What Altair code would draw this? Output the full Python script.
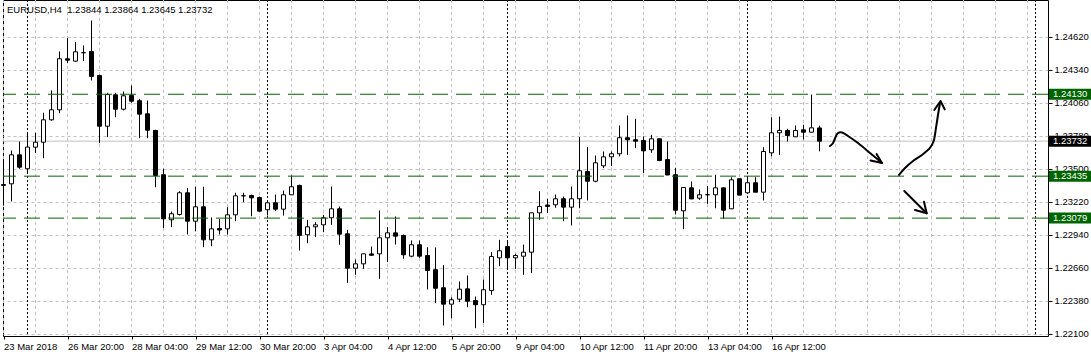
import altair as alt
import pandas as pd

# ---- candle data (EURUSD H4) ----
opens = [1.23356, 1.23370, 1.23616, 1.23498, 1.23681, 1.23723, 1.23913, 1.23998, 1.24431, 1.24411,
         1.24482, 1.24493, 1.24289, 1.23859, 1.24125, 1.24003, 1.24119, 1.24075, 1.23964, 1.23823,
         1.23447, 1.23065, 1.23110, 1.23294, 1.23053, 1.23175, 1.22895, 1.22991, 1.22988, 1.23107,
         1.23268, 1.23271, 1.23254, 1.23150, 1.23209, 1.23155, 1.23277, 1.23356, 1.22938, 1.23005,
         1.23022, 1.23082, 1.23158, 1.22946, 1.22654, 1.22691, 1.22775, 1.22776, 1.22912, 1.22954,
         1.22932, 1.22756, 1.22853, 1.22762, 1.22641, 1.22488, 1.22349, 1.22391, 1.22479, 1.22380,
         1.22344, 1.22465, 1.22742, 1.22838, 1.22742, 1.22756, 1.22790, 1.23124, 1.23190, 1.23192,
         1.23243, 1.23172, 1.23243, 1.23475, 1.23392, 1.23523, 1.23599, 1.23625, 1.23761, 1.23744,
         1.23738, 1.23659, 1.23752, 1.23576, 1.23447, 1.23141, 1.23336, 1.23248, 1.23277, 1.23277,
         1.23336, 1.23158, 1.23413, 1.23294, 1.23379, 1.23299, 1.23633, 1.23803, 1.23823, 1.23769,
         1.23828, 1.23808, 1.23844]
highs = [1.23582, 1.23653, 1.23729, 1.23797, 1.23803, 1.23973, 1.24162, 1.24493, 1.24606, 1.24572,
         1.24544, 1.24756, 1.24295, 1.24142, 1.24142, 1.24153, 1.24204, 1.24091, 1.24077, 1.23828,
         1.23498, 1.23135, 1.23307, 1.23336, 1.23345, 1.23345, 1.23084, 1.23073, 1.23172, 1.23294,
         1.23294, 1.23279, 1.23262, 1.23212, 1.23279, 1.23313, 1.23441, 1.23364, 1.23065, 1.23044,
         1.23107, 1.23347, 1.23178, 1.22980, 1.22728, 1.22776, 1.22838, 1.23144, 1.23002, 1.23093,
         1.22940, 1.22889, 1.22889, 1.22832, 1.22830, 1.22680, 1.22408, 1.22541, 1.22592, 1.22414,
         1.22558, 1.22790, 1.22895, 1.22893, 1.22776, 1.22855, 1.23126, 1.23307, 1.23243, 1.23279,
         1.23262, 1.23347, 1.23766, 1.23681, 1.23610, 1.23644, 1.23644, 1.23865, 1.23950, 1.23922,
         1.23772, 1.23786, 1.23754, 1.23729, 1.23506, 1.23341, 1.23390, 1.23322, 1.23350, 1.23447,
         1.23338, 1.23426, 1.23415, 1.23426, 1.23426, 1.23681, 1.23935, 1.23941, 1.23837, 1.23865,
         1.23871, 1.24128, 1.23864]
lows = [1.23186, 1.23220, 1.23498, 1.23462, 1.23633, 1.23587, 1.23905, 1.23969, 1.24394, 1.24408,
        1.24411, 1.24247, 1.23715, 1.23766, 1.23935, 1.23992, 1.24058, 1.23757, 1.23757, 1.23341,
        1.22994, 1.23002, 1.23101, 1.22940, 1.22966, 1.22832, 1.22841, 1.22940, 1.22940, 1.23053,
        1.23214, 1.23095, 1.23135, 1.23101, 1.23138, 1.23101, 1.23275, 1.22804, 1.22866, 1.22917,
        1.22960, 1.23022, 1.22853, 1.22530, 1.22598, 1.22649, 1.22760, 1.22564, 1.22705, 1.22855,
        1.22734, 1.22747, 1.22742, 1.22473, 1.22357, 1.22168, 1.22230, 1.22366, 1.22323, 1.22145,
        1.22187, 1.22428, 1.22671, 1.22649, 1.22649, 1.22598, 1.22612, 1.23065, 1.23121, 1.23167,
        1.23053, 1.23016, 1.23163, 1.23229, 1.23384, 1.23503, 1.23520, 1.23602, 1.23616, 1.23672,
        1.23460, 1.23633, 1.23562, 1.23443, 1.23110, 1.22985, 1.23240, 1.23234, 1.23200, 1.23163,
        1.23073, 1.23156, 1.23274, 1.23292, 1.23299, 1.23229, 1.23604, 1.23616, 1.23729, 1.23767,
        1.23746, 1.23806, 1.23645]
closes = [1.23364, 1.23616, 1.23511, 1.23682, 1.23723, 1.23913, 1.23998, 1.24431, 1.24419, 1.24490,
          1.24483, 1.24281, 1.23859, 1.24128, 1.24003, 1.24117, 1.24071, 1.23961, 1.23825, 1.23441,
          1.23073, 1.23116, 1.23294, 1.23053, 1.23175, 1.22895, 1.22988, 1.22978, 1.23107, 1.23268,
          1.23269, 1.23251, 1.23138, 1.23209, 1.23155, 1.23277, 1.23345, 1.22932, 1.23005, 1.23022,
          1.23082, 1.23158, 1.22943, 1.22654, 1.22691, 1.22776, 1.22764, 1.22912, 1.22954, 1.22926,
          1.22768, 1.22853, 1.22756, 1.22635, 1.22484, 1.22349, 1.22386, 1.22476, 1.22374, 1.22344,
          1.22471, 1.22753, 1.22802, 1.22742, 1.22762, 1.22790, 1.23124, 1.23178, 1.23178, 1.23243,
          1.23172, 1.23243, 1.23481, 1.23392, 1.23548, 1.23599, 1.23625, 1.23761, 1.23744, 1.23732,
          1.23650, 1.23752, 1.23568, 1.23445, 1.23146, 1.23339, 1.23242, 1.23277, 1.23278, 1.23336,
          1.23146, 1.23404, 1.23274, 1.23379, 1.23299, 1.23644, 1.23803, 1.23823, 1.23780, 1.23823,
          1.23808, 1.23845, 1.23732]

symbol = "EURUSD,H4"
time_labels = ["23 Mar 2018", "26 Mar 20:00", "28 Mar 04:00", "29 Mar 12:00", "30 Mar 20:00",
               "3 Apr 04:00", "4 Apr 12:00", "5 Apr 20:00", "9 Apr 04:00", "10 Apr 12:00",
               "11 Apr 20:00", "13 Apr 04:00", "16 Apr 12:00"]
label_bars = [0, 8, 16, 24, 32, 40, 48, 56, 64, 72, 80, 88, 96]
grid_bars = list(range(0, 129, 4))
week_separators = [3, 33, 63, 93, 129]
price_ticks = [1.22100, 1.22380, 1.22660, 1.22940, 1.23220, 1.23500, 1.23780, 1.24060, 1.24340, 1.24620]
levels = [1.24130, 1.23435, 1.23079]
bid = closes[-1]

# hand-drawn arrows: (bar position, price)
arrow_down_x = [103.31, 103.69, 104.06, 104.31, 104.81, 105.56, 106.81, 108.31, 109.81]
arrow_down_y = [1.23691, 1.23716, 1.23776, 1.23801, 1.23805, 1.23776, 1.23716, 1.23632, 1.23547]
head_down_x = [109.13, 109.81, 108.38]
head_down_y = [1.23623, 1.23547, 1.23568]
arrow_up_x = [111.94, 112.69, 113.69, 114.81, 115.81, 116.31, 116.56, 116.81, 117.06]
arrow_up_y = [1.23445, 1.23504, 1.23564, 1.23615, 1.23674, 1.23742, 1.23844, 1.23954, 1.24056]
head_up_x = [116.35, 117.13, 117.65]
head_up_y = [1.23996, 1.24073, 1.24002]
arrow_low_x = [112.6, 115.4]
arrow_low_y = [1.23309, 1.23120]
head_low_x = [113.94, 115.4, 115.06]
head_low_y = [1.23148, 1.23120, 1.23218]

# ---- tables ----
n = len(opens)
candles = pd.DataFrame({"i": list(range(n)), "open": opens, "high": highs,
                        "low": lows, "close": closes})

FONT = "Liberation Sans"
FS = 9.5
GREEN = "#006400"
GRAY = "#c0c0c0"

xs = alt.Scale(domain=[-0.0625, 130.5625], zero=False, nice=False, padding=0)
ys = alt.Scale(domain=[1.220788, 1.249297], zero=False, nice=False, padding=0)

label_expr = "[" + ",".join("'" + t + "'" for t in time_labels) + "][round(datum.value/8)]"
x_axis = alt.Axis(values=label_bars, labelExpr=label_expr, grid=False, domain=False,
                  tickSize=3, tickColor="black", labelAlign="left", labelBaseline="top",
                  labelPadding=2, labelFlush=False, labelOverlap=False, labelFont=FONT,
                  labelFontSize=FS, labelColor="black", title=None)
y_axis = alt.Axis(values=price_ticks, format=".5f", orient="right", grid=True,
                  gridColor=GRAY, gridDash=[3, 3], gridWidth=1, domain=False,
                  tickSize=4, tickColor="black", labelPadding=2, labelFlush=False,
                  labelOverlap=False, labelFont=FONT, labelFontSize=FS,
                  labelColor="black", title=None)


def X(field):
    return alt.X(field, type="quantitative", scale=xs, axis=x_axis)


def Y(field):
    return alt.Y(field, type="quantitative", scale=ys, axis=y_axis)


grid = alt.Chart(pd.DataFrame({"g": grid_bars})).mark_rule(
    color=GRAY, strokeWidth=1, strokeDash=[3, 3]).encode(x=X("g"))

seps = alt.Chart(pd.DataFrame({"s": week_separators})).mark_rule(
    color="black", strokeWidth=1, strokeDash=[2, 2]).encode(x=X("s"))

bid_line = alt.Chart(pd.DataFrame({"p": [bid]})).mark_rule(
    color=GRAY, strokeWidth=1).encode(y=Y("p"))

wicks = alt.Chart(candles).mark_rule(color="black", strokeWidth=1).encode(
    x=X("i"), y=Y("low"), y2="high")

bodies = alt.Chart(candles).mark_bar(size=4, stroke="black", strokeWidth=1).encode(
    x=X("i"), y=Y("open"), y2="close",
    fill=alt.condition("datum.close >= datum.open", alt.value("white"), alt.value("black")))

level_lines = alt.Chart(pd.DataFrame({"p": levels})).mark_rule(
    color=GREEN, strokeWidth=1, strokeDash=[16, 8]).encode(y=Y("p"))

arrows_rows = []
for name, xv, yv in [("a", arrow_down_x, arrow_down_y), ("b", arrow_up_x, arrow_up_y),
                     ("c", arrow_low_x, arrow_low_y)]:
    for k, (a, b) in enumerate(zip(xv, yv)):
        arrows_rows.append({"seg": name, "o": k, "x": a, "y": b})
heads_rows = []
for name, xv, yv in [("ha", head_down_x, head_down_y), ("hb", head_up_x, head_up_y),
                     ("hc", head_low_x, head_low_y)]:
    for k, (a, b) in enumerate(zip(xv, yv)):
        heads_rows.append({"seg": name, "o": k, "x": a, "y": b})

arrows = alt.Chart(pd.DataFrame(arrows_rows)).mark_line(
    color="black", strokeWidth=2, interpolate="cardinal", strokeCap="round",
    strokeJoin="round").encode(x=X("x"), y=Y("y"), detail="seg:N", order="o:Q")
heads = alt.Chart(pd.DataFrame(heads_rows)).mark_line(
    color="black", strokeWidth=2, strokeCap="round", strokeJoin="round").encode(
    x=X("x"), y=Y("y"), detail="seg:N", order="o:Q")

level_boxes = alt.Chart(pd.DataFrame({"p": levels})).mark_rule(
    color=GREEN, strokeWidth=11, strokeCap="butt").encode(
    x=alt.value(1046), x2=alt.value(1088), y=Y("p"))
bid_box = alt.Chart(pd.DataFrame({"p": [bid]})).mark_rule(
    color="black", strokeWidth=11, strokeCap="butt").encode(
    x=alt.value(1046), x2=alt.value(1088), y=Y("p"))
box_text = alt.Chart(pd.DataFrame({"p": levels + [bid]})).mark_text(
    align="left", baseline="middle", color="white", font=FONT, fontSize=FS).encode(
    x=alt.value(1050), y=Y("p"), text=alt.Text("p:Q", format=".5f"))

title_str = symbol + "\u00a0 " + " ".join(f"{v:.5f}" for v in (opens[-1], highs[-1], lows[-1], closes[-1]))
title = alt.Chart(pd.DataFrame({"t": [title_str]})).mark_text(
    align="left", baseline="middle", color="black", font=FONT, fontSize=FS).encode(
    x=alt.value(4), y=alt.value(10), text="t:N")

chart = alt.layer(grid, seps, bid_line, wicks, bodies, level_lines, arrows, heads,
                  level_boxes, bid_box, box_text, title).properties(
    width=1045, height=336,
    autosize=alt.AutoSizeParams(type="none"),
    padding={"left": 3, "top": 0, "right": 43, "bottom": 21},
    background="white",
).configure_view(stroke="black", strokeWidth=1)

chart.save("out.html", embed_options={"renderer": "svg", "actions": False})
